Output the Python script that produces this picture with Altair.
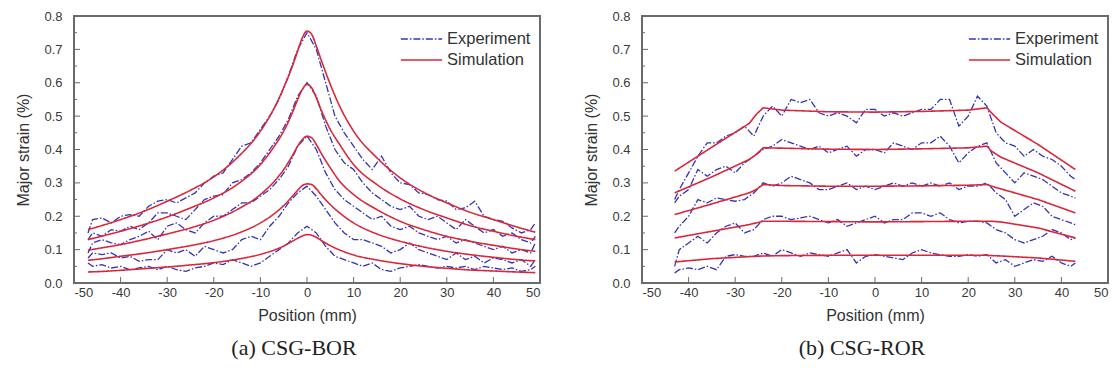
import altair as alt
import pandas as pd

# ---------------- (a) CSG-BOR ----------------
# positions (mm) of the measured profiles
pos_bor = [-47, -46, -44, -42, -40, -38, -36, -34, -32, -30, -28, -26, -24, -22, -20,
           -18, -16, -14, -12, -10, -8, -6, -4, -2, 0, 2, 4, 6, 8, 10, 12, 14, 16, 18,
           20, 22, 24, 26, 28, 30, 32, 34, 36, 38, 40, 42, 44, 46, 48, 49]
exp_bor_1 = [0.15, 0.19, 0.195, 0.18, 0.2, 0.205, 0.2, 0.23, 0.245, 0.25,
             0.24, 0.255, 0.27, 0.3, 0.32, 0.33, 0.37, 0.41, 0.42, 0.46,
             0.5, 0.55, 0.62, 0.7, 0.75, 0.7, 0.6, 0.5, 0.45, 0.41,
             0.37, 0.34, 0.38, 0.33, 0.3, 0.295, 0.27, 0.265, 0.25, 0.245,
             0.22, 0.225, 0.245, 0.2, 0.19, 0.185, 0.165, 0.15, 0.16, 0.18]
exp_bor_2 = [0.13, 0.15, 0.14, 0.16, 0.155, 0.17, 0.16, 0.18, 0.21, 0.21,
             0.2, 0.19, 0.22, 0.25, 0.26, 0.265, 0.3, 0.31, 0.33, 0.36,
             0.4, 0.44, 0.49, 0.56, 0.6, 0.56, 0.47, 0.4, 0.36, 0.34,
             0.3, 0.27, 0.25, 0.23, 0.22, 0.23, 0.2, 0.19, 0.2, 0.18,
             0.16, 0.19, 0.17, 0.15, 0.16, 0.14, 0.15, 0.13, 0.12, 0.14]
exp_bor_3 = [0.09, 0.12, 0.13, 0.12, 0.115, 0.13, 0.14, 0.155, 0.13, 0.17,
             0.18, 0.16, 0.15, 0.18, 0.2, 0.2, 0.22, 0.24, 0.24, 0.26,
             0.28, 0.31, 0.35, 0.41, 0.44, 0.4, 0.33, 0.28, 0.25, 0.23,
             0.21, 0.19, 0.2, 0.17, 0.16, 0.17, 0.15, 0.14, 0.13, 0.14,
             0.12, 0.13, 0.12, 0.11, 0.1, 0.11, 0.09, 0.1, 0.09, 0.12]
exp_bor_4 = [0.075, 0.09, 0.085, 0.09, 0.075, 0.08, 0.065, 0.07, 0.07, 0.1,
             0.09, 0.1, 0.08, 0.11, 0.1, 0.09, 0.1, 0.13, 0.14, 0.13,
             0.17, 0.2, 0.24, 0.27, 0.29, 0.26, 0.22, 0.18, 0.15, 0.13,
             0.13, 0.12, 0.11, 0.09, 0.1, 0.12, 0.1, 0.09, 0.08, 0.07,
             0.09, 0.07, 0.08, 0.06, 0.075, 0.07, 0.06, 0.07, 0.05, 0.07]
exp_bor_5 = [0.06, 0.05, 0.055, 0.045, 0.05, 0.04, 0.045, 0.05, 0.04, 0.05,
             0.04, 0.035, 0.045, 0.05, 0.06, 0.055, 0.07, 0.06, 0.05, 0.06,
             0.08, 0.1, 0.12, 0.15, 0.17, 0.15, 0.11, 0.08, 0.07, 0.06,
             0.05, 0.06, 0.04, 0.035, 0.045, 0.05, 0.055, 0.05, 0.045, 0.05,
             0.045, 0.05, 0.04, 0.05, 0.045, 0.04, 0.045, 0.035, 0.04, 0.05]

# simulated profiles (smooth), sampled at these positions
sim_pos_bor = [-47, -45, -40, -35, -30, -25, -20, -15, -10, -7, -5, -3, -2, -1, 0,
               1, 2, 3, 5, 7, 10, 15, 20, 25, 30, 35, 40, 45, 49]
sim_bor_1 = [0.160, 0.168, 0.190, 0.215, 0.245, 0.278, 0.318, 0.375, 0.455, 0.525,
             0.585, 0.655, 0.695, 0.735, 0.755, 0.745, 0.71, 0.67, 0.595, 0.53,
             0.455, 0.375, 0.315, 0.272, 0.24, 0.212, 0.19, 0.168, 0.152]
sim_bor_2 = [0.130, 0.137, 0.155, 0.175, 0.198, 0.225, 0.255, 0.295, 0.355, 0.41,
             0.455, 0.515, 0.55, 0.58, 0.595, 0.585, 0.555, 0.52, 0.46, 0.415,
             0.355, 0.295, 0.252, 0.22, 0.195, 0.172, 0.155, 0.14, 0.13]
sim_bor_3 = [0.098, 0.103, 0.115, 0.13, 0.147, 0.165, 0.188, 0.22, 0.265, 0.305,
             0.34, 0.385, 0.41, 0.43, 0.44, 0.435, 0.415, 0.39, 0.345, 0.305,
             0.265, 0.22, 0.185, 0.16, 0.14, 0.125, 0.113, 0.102, 0.095]
sim_bor_4 = [0.068, 0.071, 0.08, 0.089, 0.1, 0.112, 0.127, 0.148, 0.18, 0.208,
             0.232, 0.262, 0.278, 0.292, 0.297, 0.295, 0.282, 0.265, 0.235, 0.21,
             0.18, 0.147, 0.125, 0.108, 0.095, 0.085, 0.077, 0.07, 0.066]
sim_bor_5 = [0.033, 0.034, 0.038, 0.043, 0.048, 0.054, 0.061, 0.071, 0.086, 0.099,
             0.111, 0.126, 0.134, 0.141, 0.145, 0.143, 0.137, 0.128, 0.112, 0.099,
             0.084, 0.069, 0.058, 0.05, 0.044, 0.039, 0.036, 0.033, 0.031]

# ---------------- (b) CSG-ROR ----------------
pos_ror = [-43, -42, -40, -38, -36, -34, -32, -30, -28, -26, -24, -22, -20, -18, -16,
           -14, -12, -10, -8, -6, -4, -2, 0, 2, 4, 6, 8, 10, 12, 14, 16, 18, 20, 22,
           24, 26, 28, 30, 32, 34, 36, 38, 40, 42, 43]
exp_ror_1 = [0.25, 0.28, 0.33, 0.38, 0.42, 0.42, 0.44, 0.45, 0.47, 0.44,
             0.50, 0.53, 0.50, 0.55, 0.54, 0.55, 0.51, 0.50, 0.51, 0.50,
             0.48, 0.52, 0.52, 0.50, 0.51, 0.50, 0.51, 0.52, 0.52, 0.55,
             0.55, 0.47, 0.50, 0.56, 0.53, 0.45, 0.42, 0.41, 0.38, 0.40,
             0.38, 0.37, 0.35, 0.32, 0.31]
exp_ror_2 = [0.24, 0.26, 0.28, 0.34, 0.32, 0.34, 0.35, 0.33, 0.36, 0.38,
             0.40, 0.41, 0.43, 0.42, 0.41, 0.40, 0.41, 0.39, 0.40, 0.41,
             0.38, 0.40, 0.40, 0.39, 0.42, 0.41, 0.40, 0.42, 0.42, 0.44,
             0.41, 0.36, 0.39, 0.41, 0.42, 0.36, 0.33, 0.30, 0.33, 0.32,
             0.31, 0.29, 0.27, 0.26, 0.255]
exp_ror_3 = [0.15, 0.17, 0.2, 0.25, 0.24, 0.255, 0.25, 0.245, 0.25, 0.27,
             0.30, 0.29, 0.30, 0.32, 0.31, 0.30, 0.28, 0.28, 0.29, 0.30,
             0.28, 0.29, 0.28, 0.29, 0.30, 0.29, 0.30, 0.29, 0.30, 0.29,
             0.30, 0.28, 0.29, 0.29, 0.30, 0.27, 0.25, 0.20, 0.22, 0.24,
             0.23, 0.20, 0.19, 0.18, 0.175]
exp_ror_4 = [0.05, 0.1, 0.12, 0.14, 0.12, 0.15, 0.17, 0.18, 0.15, 0.16,
             0.19, 0.20, 0.20, 0.19, 0.195, 0.20, 0.19, 0.18, 0.19, 0.17,
             0.18, 0.19, 0.20, 0.18, 0.19, 0.19, 0.21, 0.21, 0.20, 0.21,
             0.19, 0.18, 0.185, 0.185, 0.18, 0.16, 0.15, 0.13, 0.12, 0.13,
             0.14, 0.16, 0.15, 0.13, 0.135]
exp_ror_5 = [0.03, 0.04, 0.045, 0.04, 0.05, 0.04, 0.08, 0.085, 0.08, 0.08,
             0.09, 0.08, 0.1, 0.09, 0.08, 0.09, 0.085, 0.08, 0.09, 0.1,
             0.06, 0.08, 0.085, 0.08, 0.075, 0.07, 0.09, 0.1, 0.09, 0.085,
             0.08, 0.08, 0.085, 0.08, 0.085, 0.06, 0.07, 0.05, 0.06, 0.07,
             0.065, 0.08, 0.06, 0.05, 0.06]

sim_pos_ror = [-43, -35, -27, -25.5, -24, -20, -10, 0, 10, 20, 24, 25, 27, 35, 43]
sim_ror_1 = [0.335, 0.407, 0.478, 0.505, 0.525, 0.518, 0.513, 0.512, 0.514, 0.518,
             0.525, 0.51, 0.482, 0.415, 0.34]
sim_ror_2 = [0.27, 0.318, 0.37, 0.385, 0.405, 0.404, 0.401, 0.40, 0.402, 0.405,
             0.41, 0.395, 0.377, 0.33, 0.275]
sim_ror_3 = [0.205, 0.237, 0.27, 0.28, 0.295, 0.292, 0.29, 0.29, 0.291, 0.293,
             0.295, 0.29, 0.282, 0.25, 0.21]
sim_ror_4 = [0.135, 0.155, 0.175, 0.18, 0.185, 0.185, 0.184, 0.183, 0.184, 0.185,
             0.185, 0.185, 0.183, 0.165, 0.135]
sim_ror_5 = [0.063, 0.073, 0.079, 0.08, 0.081, 0.082, 0.083, 0.083, 0.083, 0.083,
             0.083, 0.082, 0.081, 0.075, 0.065]

# axes
x_ticks = [-50, -40, -30, -20, -10, 0, 10, 20, 30, 40, 50]
x_inner_ticks = [-40, -30, -20, -10, 0, 10, 20, 30, 40]
y_ticks = [0.0, 0.1, 0.2, 0.3, 0.4, 0.5, 0.6, 0.7, 0.8]
y_inner_ticks = [0.1, 0.2, 0.3, 0.4, 0.5, 0.6, 0.7]
y_minor_ticks = [0.05, 0.15, 0.25, 0.35, 0.45, 0.55, 0.65, 0.75]

series_names = ["Experiment", "Simulation"]
series_colors = ["#3434b4", "#d9263a"]
series_dashes = [[7, 2, 1.5, 2], [1, 0]]

SANS = "Liberation Sans"
SERIF = "Liberation Serif"
W, H = 466, 267
FRAME = "#6a6a6a"


def long_table(pos, curves, name):
    rows = []
    for i, vals in enumerate(curves):
        assert len(vals) == len(pos)
        for p, v in zip(pos, vals):
            rows.append({"pos": p, "strain": v, "curve": f"c{i}", "series": name})
    return pd.DataFrame(rows)


def x_channel():
    return alt.X("pos:Q", scale=alt.Scale(domain=[-50, 50], nice=False, zero=False),
                 axis=alt.Axis(values=x_ticks, labelExpr="'' + datum.value",
                               labelOverlap=False, title="Position (mm)"))


def y_channel():
    return alt.Y("strain:Q", scale=alt.Scale(domain=[0, 0.8], nice=False),
                 axis=alt.Axis(values=y_ticks, tickCount=9,
                               labelExpr="format(datum.value, '.1f')",
                               labelOverlap=False, title="Major strain (%)"))


def panel(exp_df, sim_df, sim_interp, caption):
    color = alt.Color("series:N", scale=alt.Scale(domain=series_names, range=series_colors),
                      legend=alt.Legend(title=None))
    dash = alt.StrokeDash("series:N", scale=alt.Scale(domain=series_names, range=series_dashes),
                          legend=alt.Legend(title=None))

    exp = alt.Chart(exp_df).mark_line(strokeWidth=1.3).encode(
        x=x_channel(), y=y_channel(), color=color, strokeDash=dash, detail="curve:N")
    sim = alt.Chart(sim_df).mark_line(strokeWidth=1.6, interpolate=sim_interp).encode(
        x=x_channel(), y=y_channel(), color=color, strokeDash=dash, detail="curve:N")

    # inward tick marks on the left and bottom frame
    ytick = alt.Chart(pd.DataFrame({"strain": y_inner_ticks})).mark_rule(
        color=FRAME, strokeWidth=1).encode(y=y_channel(), x=alt.value(0), x2=alt.value(6))
    ytick_minor = alt.Chart(pd.DataFrame({"strain": y_minor_ticks})).mark_rule(
        color=FRAME, strokeWidth=1).encode(y=y_channel(), x=alt.value(0), x2=alt.value(3))
    xtick = alt.Chart(pd.DataFrame({"pos": x_inner_ticks})).mark_rule(
        color=FRAME, strokeWidth=1).encode(x=x_channel(), y=alt.value(H), y2=alt.value(H - 6))

    return alt.layer(exp, sim, ytick, ytick_minor, xtick).properties(
        width=W, height=H,
        title=alt.TitleParams(caption, orient="bottom", font=SERIF, fontSize=22,
                              fontWeight="normal", color="#222222", offset=15, dx=-13),
    )


exp_bor = long_table(pos_bor, [exp_bor_1, exp_bor_2, exp_bor_3, exp_bor_4, exp_bor_5], "Experiment")
sim_bor = long_table(sim_pos_bor, [sim_bor_1, sim_bor_2, sim_bor_3, sim_bor_4, sim_bor_5], "Simulation")
exp_ror = long_table(pos_ror, [exp_ror_1, exp_ror_2, exp_ror_3, exp_ror_4, exp_ror_5], "Experiment")
sim_ror = long_table(sim_pos_ror, [sim_ror_1, sim_ror_2, sim_ror_3, sim_ror_4, sim_ror_5], "Simulation")

left = panel(exp_bor, sim_bor, "monotone", "(a) CSG-BOR")
right = panel(exp_ror, sim_ror, "linear", "(b) CSG-ROR")

chart = (
    alt.hconcat(left, right, spacing=41)
    .resolve_scale(color="independent", strokeDash="independent")
    .properties(padding={"left": 14, "top": 9, "right": 5, "bottom": 0}, background="white")
    .configure_view(stroke=FRAME, strokeWidth=2)
    .configure_axis(grid=False, domain=False, ticks=False, labelFont=SANS, labelFontSize=13,
                    labelColor="#3a3a3a", titleFont=SANS, titleFontSize=16,
                    titleFontWeight="normal", titleColor="#333333")
    .configure_axisY(labelPadding=12, titlePadding=12)
    .configure_axisX(labelPadding=3, titlePadding=8)
    .configure_legend(orient="none", legendX=326, legendY=14, labelFont=SANS,
                      labelFontSize=16.5, labelColor="#333333", symbolType="stroke",
                      symbolSize=1700, symbolStrokeWidth=1.5, clipHeight=18, rowPadding=3,
                      labelOffset=4, padding=0)
)

chart.save("out.html", embed_options={"renderer": "svg", "actions": False})
